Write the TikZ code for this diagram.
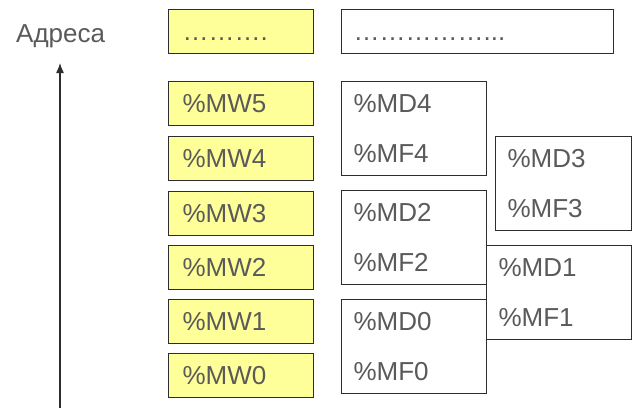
\documentclass[tikz,border=0pt]{standalone}
\usepackage{fontspec}
\setmainfont{Liberation Sans}
\usetikzlibrary{arrows.meta}
\definecolor{cellyellow}{RGB}{255,255,153}
\definecolor{labelgray}{RGB}{90,90,90}
\definecolor{framegray}{RGB}{45,45,45}
\begin{document}
\begin{tikzpicture}[x=1pt,y=-1pt,
    wordcell/.style={draw=framegray, line width=1.1pt, fill=cellyellow, anchor=north west,
      inner xsep=14pt, text width=117pt, align=left, minimum height=44pt, text=labelgray},
    dwordcell/.style={draw=framegray, line width=1.1pt, fill=white, anchor=north west,
      inner xsep=12pt, align=left, minimum height=94pt, text=labelgray,
      font=\fontsize{26}{50}\selectfont}]
      \useasboundingbox (0,0) rectangle (640,410);
      \fontsize{26}{30}\selectfont
      % address axis
      \node[anchor=base west, inner sep=0, text=labelgray] (addrlabel) at (16,42) {Адреса};
      \coordinate (axisbot) at (60,408);
      \coordinate (axistop) at (60,63);
      \draw[framegray, line width=1.3pt, -{Latex[length=10pt,width=8pt]}] (axisbot) -- (axistop);
      % word column
      \node[wordcell] (mwdots) at (168,9) {\vphantom{\%MW}……….};
      \foreach \i/\y in {5/81,4/136,3/191,2/245,1/299,0/353}
        \node[wordcell] (mw\i) at (168,\y) {\%MW\i};
      % double word column
      \node[dwordcell, text width=248pt, minimum height=44pt, font=\fontsize{26}{30}\selectfont] (mddots) at (341,9) {\vphantom{\%MD}……………...};
      \node[dwordcell, text width=121pt] (md4) at (341,81) {\%MD4\\\%MF4};
      \node[dwordcell, text width=121pt] (md2) at (341,190) {\%MD2\\\%MF2};
      \node[dwordcell, text width=121pt] (md0) at (341,299) {\%MD0\\\%MF0};
      \node[dwordcell, text width=112pt] (md3) at (495,136) {\%MD3\\\%MF3};
      \node[dwordcell, text width=121pt] (md1) at (486,245) {\%MD1\\\%MF1};
    \end{tikzpicture}
\end{document}
